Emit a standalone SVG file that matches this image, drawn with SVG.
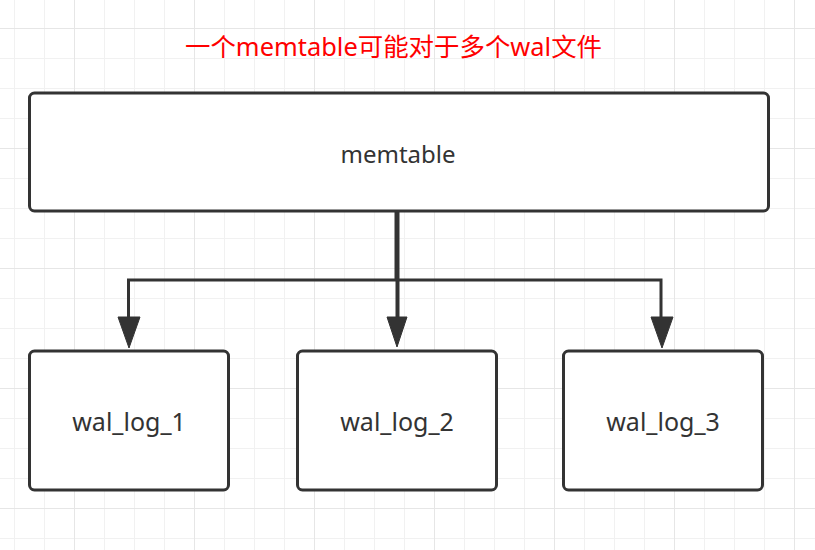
<svg xmlns="http://www.w3.org/2000/svg" width="815" height="550" viewBox="0 0 815 550">
<defs>
<pattern id="grid" x="14" y="28" width="120" height="120" patternUnits="userSpaceOnUse">
<rect x="0" y="0" width="1" height="120" fill="#f1f1f1"/>
<rect x="30" y="0" width="1" height="120" fill="#f1f1f1"/>
<rect x="90" y="0" width="1" height="120" fill="#f1f1f1"/>
<rect x="0" y="30" width="120" height="1" fill="#f1f1f1"/>
<rect x="0" y="60" width="120" height="1" fill="#f1f1f1"/>
<rect x="0" y="90" width="120" height="1" fill="#f1f1f1"/>
<rect x="60" y="0" width="1" height="120" fill="#e6e6e6"/>
<rect x="0" y="0" width="120" height="1" fill="#e6e6e6"/>
</pattern>
</defs>
<style>
.box{fill:#ffffff;stroke:#333333;stroke-width:3}
.lbl{font-family:"Noto Sans","Noto Sans CJK SC",sans-serif;font-size:24px;fill:#333333;text-anchor:middle}
.wal{font-size:25px}
.edge{fill:none;stroke:#333333;stroke-width:3}
.head{fill:#333333;stroke:#333333;stroke-width:1}
.title{font-family:"Noto Sans","Noto Sans CJK SC",sans-serif;font-size:25px;fill:#ff0000}
</style>
<rect x="0" y="0" width="815" height="550" fill="#ffffff"/>
<rect x="0" y="0" width="815" height="550" fill="url(#grid)"/>
<text class="title" x="185" y="56" textLength="417" lengthAdjust="spacingAndGlyphs">一个memtable可能对于多个wal文件</text>
<g id="connectors">
<line class="edge" x1="397" y1="211" x2="397" y2="280" style="stroke-width:5"/>
<line class="edge" x1="397.5" y1="280" x2="397.5" y2="320" style="stroke-width:4"/>
<polyline class="edge" points="397,280 128.5,280 128.5,320"/>
<polyline class="edge" points="397,280 661,280 661,320"/>
<polygon class="head" points="387,317 407,317 397,347"/>
<polygon class="head" points="118,317 140,317 129,348"/>
<polygon class="head" points="651,317 673,317 662,348"/>
</g>
<g id="memtable">
<rect class="box" x="29.5" y="93" width="739" height="118" rx="5"/>
<text class="lbl" x="398" y="163">memtable</text>
</g>
<g id="wal_log_1">
<rect class="box" x="29.5" y="351" width="199" height="139" rx="5"/>
<text class="lbl wal" x="129" y="431">wal_log_1</text>
</g>
<g id="wal_log_2">
<rect class="box" x="297.5" y="351" width="199" height="139" rx="5"/>
<text class="lbl wal" x="397" y="431">wal_log_2</text>
</g>
<g id="wal_log_3">
<rect class="box" x="563.5" y="351" width="199" height="139" rx="5"/>
<text class="lbl wal" x="663" y="431">wal_log_3</text>
</g>
</svg>
